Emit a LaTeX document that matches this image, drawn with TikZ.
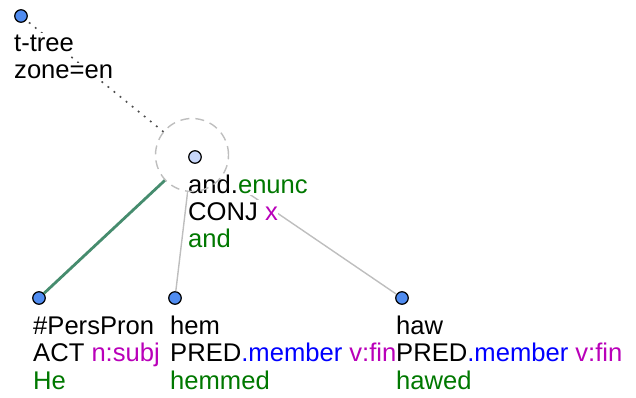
\documentclass[tikz,border=0pt]{standalone}
\usepackage{fontspec}
\setmainfont{Liberation Sans}
\definecolor{dotblue}{RGB}{80,140,240}
\definecolor{dotpale}{RGB}{200,215,250}
\definecolor{edgegreen}{RGB}{70,140,110}
\definecolor{edgegray}{RGB}{190,190,190}
\definecolor{lemmagreen}{RGB}{0,120,0}
\definecolor{tagmagenta}{RGB}{185,0,185}
\definecolor{memberblue}{RGB}{0,0,255}
\tikzset{
  tnode/.style={draw, circle, fill=dotblue, line width=1.2pt, minimum size=12.5pt, inner sep=0pt},
  coapnode/.style={tnode, fill=dotpale},
  ringspot/.style={circle, minimum size=73pt, inner sep=0pt},
  coapring/.style={ringspot, draw=edgegray, line width=1.4pt, dash pattern=on 9pt off 6pt},
  tline/.style={anchor=base west, inner sep=0pt, font=\fontsize{25.6}{27}\selectfont},
  maskline/.style={tline, fill=white, inner xsep=0pt, inner ysep=2pt},
  linkroot/.style={line width=1.6pt, black!70, dash pattern=on 1.8pt off 6pt},
  linkact/.style={line width=2.8pt, edgegreen},
  linkmember/.style={line width=1.4pt, edgegray}
}

\begin{document}
\begin{tikzpicture}[x=1pt, y=-1pt]
  \useasboundingbox (0,0) rectangle (636,398);

  % tree nodes
  \node[tnode] (root) at (21,16) {};
  \node[ringspot] (andring) at (192,155) {};
  \node[coapnode] (and) at (195,157) {};
  \node[tnode] (perspron) at (39,298) {};
  \node[tnode] (hem) at (175,298) {};
  \node[tnode] (haw) at (402,298) {};

  % edges
  \draw[linkroot] (andring) -- (root);
  \draw[linkact] (andring) -- (perspron);
  \draw[linkmember] (andring) -- (hem);
  \draw[linkmember] (andring) -- (haw);

  % labels
  \node[maskline] (rootA) at (14,52) {t-tree};
  \node[maskline] (rootB) at (14,79) {zone=en};

  \node[maskline] (andA) at (188,193) {and.\textcolor{lemmagreen}{enunc}};
  \node[maskline] (andB) at (188,220) {CONJ \textcolor{tagmagenta}{x}};
  \node[maskline] (andC) at (188,247) {\textcolor{lemmagreen}{and}};

  \node[tline] (perspronA) at (33,334) {\#PersPron};
  \node[tline] (perspronB) at (33,361.5) {ACT \textcolor{tagmagenta}{n:subj}};
  \node[tline] (perspronC) at (33,389) {\textcolor{lemmagreen}{He}};

  \node[tline] (hemA) at (170,334) {hem};
  \node[tline] (hemB) at (170,361.5) {PRED\textcolor{memberblue}{.member} \textcolor{tagmagenta}{v:fin}};
  \node[tline] (hemC) at (170,389) {\textcolor{lemmagreen}{hemmed}};

  \node[tline] (hawA) at (396,334) {haw};
  \node[tline] (hawB) at (396,361.5) {PRED\textcolor{memberblue}{.member} \textcolor{tagmagenta}{v:fin}};
  \node[tline] (hawC) at (396,389) {\textcolor{lemmagreen}{hawed}};

  % coap highlight
  \node[coapring] at (andring) {};
\end{tikzpicture}
\end{document}
